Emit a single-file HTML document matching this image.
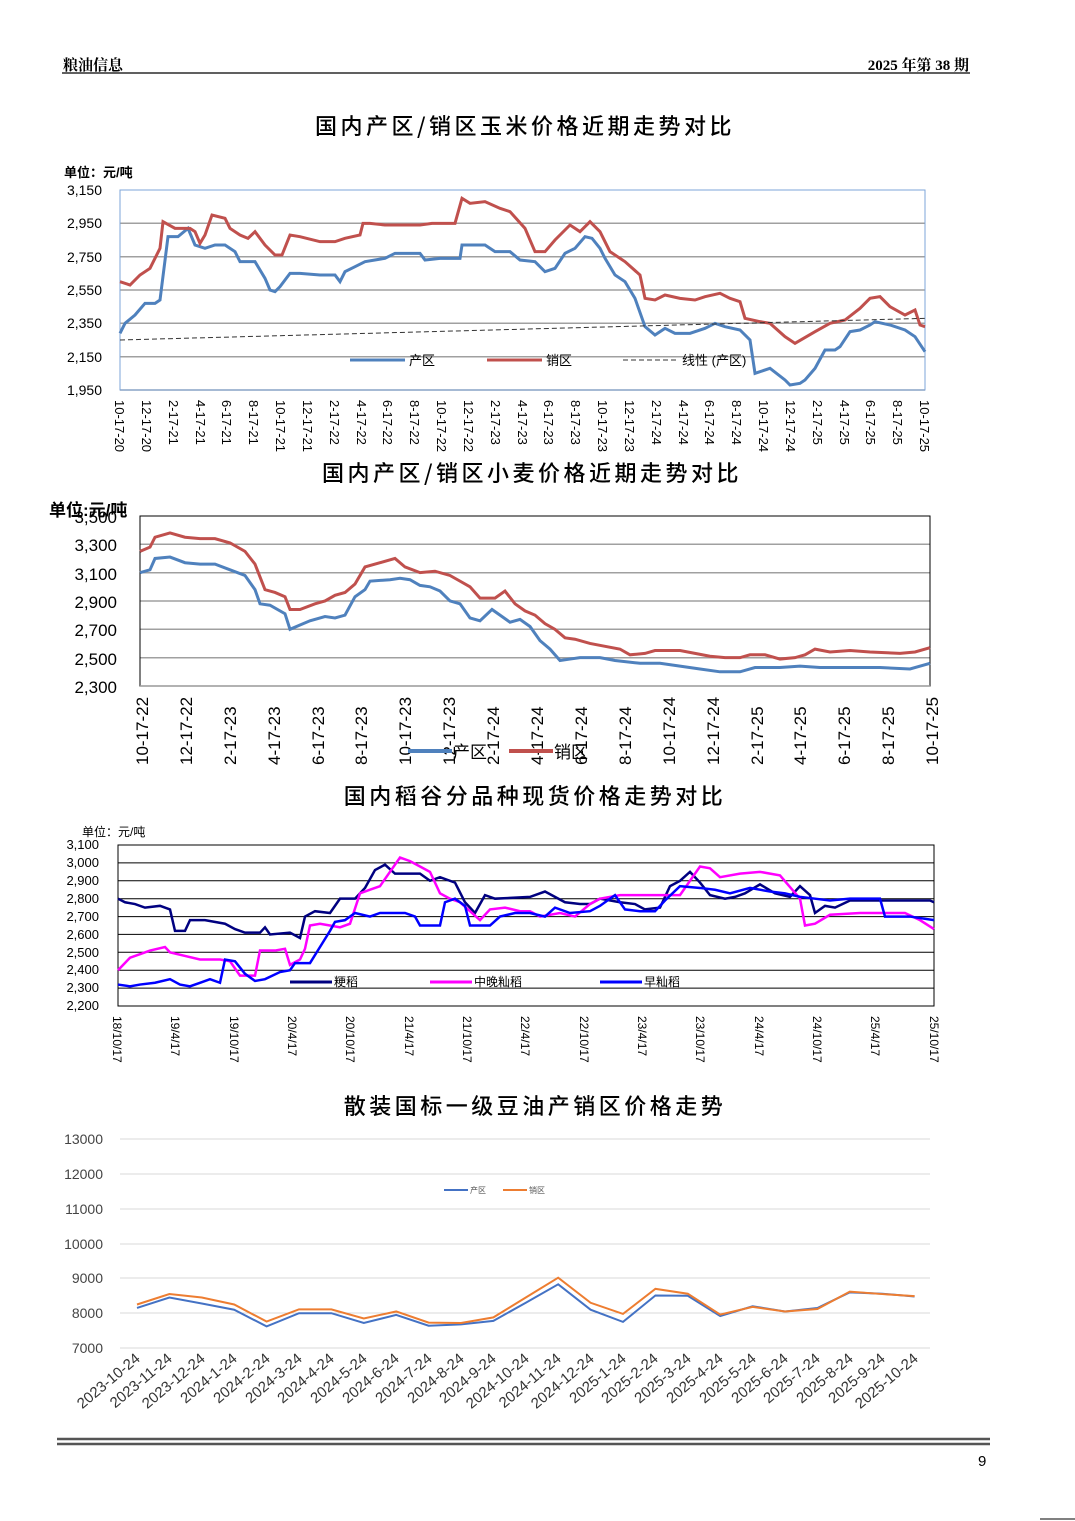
<!DOCTYPE html>
<html><head><meta charset="utf-8"><style>
body{margin:0;background:#fff}
svg{display:block}
text{font-family:"Liberation Sans","Noto Sans CJK SC",sans-serif}
.s{font-family:"Liberation Serif","Noto Serif CJK SC",serif}
.t{font-family:"Noto Sans CJK SC",sans-serif;font-weight:500}
.g line{stroke:#a0a0a0;stroke-width:1.5}
polyline{fill:none;vector-effect:non-scaling-stroke}
</style></head><body>
<svg width="1075" height="1521" viewBox="0 0 1075 1521" xmlns="http://www.w3.org/2000/svg">
<rect width="1075" height="1521" fill="#fff"/>
<!-- header -->
<text x="63" y="70" font-size="15" font-weight="bold" class="s">粮油信息</text>
<text x="969" y="70" font-size="15" font-weight="bold" class="s" text-anchor="end">2025 年第 38 期</text>
<line x1="62" y1="73" x2="970" y2="73" stroke="#000" stroke-width="1.2"/>

<!-- Chart 1 -->
<text x="525" y="134" font-size="22" text-anchor="middle" class="t" letter-spacing="3.5">国内产区/销区玉米价格近期走势对比</text>
<text x="64" y="177" font-size="13" font-weight="bold">单位：元/吨</text>
<g class="g"><line x1="120" y1="223.3" x2="925" y2="223.3"/><line x1="120" y1="256.7" x2="925" y2="256.7"/><line x1="120" y1="290" x2="925" y2="290"/><line x1="120" y1="323.3" x2="925" y2="323.3"/><line x1="120" y1="356.7" x2="925" y2="356.7"/><line x1="120" y1="390" x2="925" y2="390"/></g>
<rect x="120" y="190" width="805" height="200" fill="none" stroke="#7ea6d8" stroke-width="1"/>
<g font-size="14" text-anchor="end"><text x="102" y="195">3,150</text><text x="102" y="228">2,950</text><text x="102" y="262">2,750</text><text x="102" y="295">2,550</text><text x="102" y="328">2,350</text><text x="102" y="362">2,150</text><text x="102" y="395">1,950</text></g>
<g transform="matrix(1,0,0,-0.166667,0,715)">
<polyline stroke="#4f81bd" stroke-width="3" points="120,2290 125,2350 135,2400 145,2470 155,2470 160,2490 168,2870 178,2870 188,2920 195,2820 205,2800 215,2820 225,2820 235,2780 240,2720 255,2720 265,2620 270,2550 275,2540 280,2570 290,2650 300,2650 320,2640 335,2640 340,2600 345,2660 355,2690 365,2720 385,2740 395,2770 420,2770 425,2730 440,2740 460,2740 462,2820 485,2820 495,2780 510,2780 520,2730 535,2720 545,2660 555,2680 565,2770 575,2800 585,2870 592,2860 600,2800 605,2740 615,2640 625,2600 635,2500 645,2330 655,2280 665,2320 675,2290 690,2290 705,2320 715,2350 725,2330 740,2310 750,2250 755,2050 770,2080 785,2010 790,1980 800,1990 805,2010 815,2080 825,2190 835,2190 840,2210 850,2300 860,2310 870,2340 875,2360 890,2340 905,2310 915,2270 925,2180"/>
<polyline stroke="#c0504d" stroke-width="3" points="120,2600 130,2580 140,2640 150,2680 160,2800 163,2960 175,2920 190,2920 195,2900 200,2830 205,2880 212,3000 225,2980 230,2920 240,2880 248,2860 255,2900 265,2820 275,2760 282,2760 290,2880 300,2870 320,2840 335,2840 345,2860 360,2880 363,2950 370,2950 385,2940 420,2940 432,2950 455,2950 462,3100 470,3070 485,3080 500,3040 510,3020 525,2920 535,2780 545,2780 555,2850 570,2940 580,2900 590,2960 600,2900 610,2780 625,2720 640,2640 645,2500 655,2490 665,2520 680,2500 695,2490 705,2510 720,2530 730,2500 740,2480 745,2380 760,2360 770,2350 785,2270 795,2230 815,2300 830,2350 845,2370 860,2440 870,2500 880,2510 890,2450 905,2400 915,2430 920,2340 925,2330"/>
<polyline stroke="#333" stroke-width="1" stroke-dasharray="5,3" points="120,2250 925,2380"/>
</g>
<line x1="350" y1="360" x2="405" y2="360" stroke="#4f81bd" stroke-width="3"/><text x="409" y="365" font-size="13">产区</text>
<line x1="487" y1="360" x2="542" y2="360" stroke="#c0504d" stroke-width="3"/><text x="546" y="365" font-size="13">销区</text>
<line x1="623" y1="360" x2="678" y2="360" stroke="#333" stroke-width="1" stroke-dasharray="5,3"/><text x="682" y="365" font-size="13">线性 (产区)</text>
<g font-size="13">
<text transform="translate(115,400) rotate(90)">10-17-20</text><text transform="translate(142,400) rotate(90)">12-17-20</text><text transform="translate(169,400) rotate(90)">2-17-21</text><text transform="translate(196,400) rotate(90)">4-17-21</text><text transform="translate(222,400) rotate(90)">6-17-21</text><text transform="translate(249,400) rotate(90)">8-17-21</text><text transform="translate(276,400) rotate(90)">10-17-21</text><text transform="translate(303,400) rotate(90)">12-17-21</text><text transform="translate(330,400) rotate(90)">2-17-22</text><text transform="translate(357,400) rotate(90)">4-17-22</text><text transform="translate(383,400) rotate(90)">6-17-22</text><text transform="translate(410,400) rotate(90)">8-17-22</text><text transform="translate(437,400) rotate(90)">10-17-22</text><text transform="translate(464,400) rotate(90)">12-17-22</text><text transform="translate(491,400) rotate(90)">2-17-23</text><text transform="translate(518,400) rotate(90)">4-17-23</text><text transform="translate(544,400) rotate(90)">6-17-23</text><text transform="translate(571,400) rotate(90)">8-17-23</text><text transform="translate(598,400) rotate(90)">10-17-23</text><text transform="translate(625,400) rotate(90)">12-17-23</text><text transform="translate(652,400) rotate(90)">2-17-24</text><text transform="translate(679,400) rotate(90)">4-17-24</text><text transform="translate(705,400) rotate(90)">6-17-24</text><text transform="translate(732,400) rotate(90)">8-17-24</text><text transform="translate(759,400) rotate(90)">10-17-24</text><text transform="translate(786,400) rotate(90)">12-17-24</text><text transform="translate(813,400) rotate(90)">2-17-25</text><text transform="translate(840,400) rotate(90)">4-17-25</text><text transform="translate(866,400) rotate(90)">6-17-25</text><text transform="translate(893,400) rotate(90)">8-17-25</text><text transform="translate(920,400) rotate(90)">10-17-25</text>
</g>

<!-- Chart 2 -->
<text x="532" y="481" font-size="22" text-anchor="middle" class="t" letter-spacing="3.5">国内产区/销区小麦价格近期走势对比</text>
<g class="g"><line x1="140" y1="544.3" x2="930" y2="544.3"/><line x1="140" y1="572.7" x2="930" y2="572.7"/><line x1="140" y1="601" x2="930" y2="601"/><line x1="140" y1="629.3" x2="930" y2="629.3"/><line x1="140" y1="657.7" x2="930" y2="657.7"/></g>
<rect x="140" y="516" width="790" height="170" fill="none" stroke="#000" stroke-width="1"/>
<line x1="140" y1="686" x2="930" y2="686" stroke="#999" stroke-width="1.5"/>
<g font-size="17" text-anchor="end"><text x="117" y="523">3,500</text><text x="117" y="551">3,300</text><text x="117" y="580">3,100</text><text x="117" y="608">2,900</text><text x="117" y="636">2,700</text><text x="117" y="665">2,500</text><text x="117" y="693">2,300</text></g>
<text x="49" y="516" font-size="17" font-weight="bold">单位:元/吨</text>
<g transform="matrix(1,0,0,-0.141667,0,1011.8)">
<polyline stroke="#4f81bd" stroke-width="3" points="140,3100 150,3120 155,3200 170,3210 185,3170 200,3160 215,3160 230,3120 245,3080 255,2980 260,2880 270,2870 285,2810 290,2700 300,2730 310,2760 325,2790 335,2780 345,2800 355,2930 365,2980 370,3040 390,3050 400,3060 410,3050 420,3010 430,3000 440,2970 450,2900 460,2880 470,2780 480,2760 492,2840 500,2800 510,2750 520,2770 530,2720 540,2620 550,2560 560,2480 570,2490 580,2500 600,2500 615,2480 640,2460 660,2460 680,2440 700,2420 720,2400 740,2400 755,2430 780,2430 800,2440 820,2430 840,2430 880,2430 910,2420 930,2460"/>
<polyline stroke="#c0504d" stroke-width="3" points="140,3250 150,3280 155,3350 170,3380 185,3350 200,3340 215,3340 230,3310 245,3250 255,3160 265,2980 275,2960 285,2930 290,2840 300,2840 315,2880 325,2900 335,2940 345,2960 355,3020 365,3140 380,3170 395,3200 405,3140 420,3100 435,3110 450,3080 460,3040 470,3000 480,2920 495,2920 505,2970 515,2880 525,2830 535,2800 545,2740 555,2700 565,2640 575,2630 590,2600 605,2580 620,2560 630,2520 645,2530 655,2550 680,2550 695,2530 710,2510 725,2500 740,2500 750,2520 765,2520 780,2490 795,2500 805,2520 815,2560 830,2540 850,2550 870,2540 900,2530 915,2540 930,2570"/>
</g>
<g font-size="17">
<text transform="translate(148,765) rotate(-90)">10-17-22</text><text transform="translate(192,765) rotate(-90)">12-17-22</text><text transform="translate(236,765) rotate(-90)">2-17-23</text><text transform="translate(280,765) rotate(-90)">4-17-23</text><text transform="translate(324,765) rotate(-90)">6-17-23</text><text transform="translate(367,765) rotate(-90)">8-17-23</text><text transform="translate(411,765) rotate(-90)">10-17-23</text><text transform="translate(455,765) rotate(-90)">12-17-23</text><text transform="translate(499,765) rotate(-90)">2-17-24</text><text transform="translate(543,765) rotate(-90)">4-17-24</text><text transform="translate(587,765) rotate(-90)">6-17-24</text><text transform="translate(631,765) rotate(-90)">8-17-24</text><text transform="translate(675,765) rotate(-90)">10-17-24</text><text transform="translate(719,765) rotate(-90)">12-17-24</text><text transform="translate(763,765) rotate(-90)">2-17-25</text><text transform="translate(806,765) rotate(-90)">4-17-25</text><text transform="translate(850,765) rotate(-90)">6-17-25</text><text transform="translate(894,765) rotate(-90)">8-17-25</text><text transform="translate(938,765) rotate(-90)">10-17-25</text>
</g>
<line x1="408" y1="751" x2="452" y2="751" stroke="#4f81bd" stroke-width="4"/><text x="453" y="758" font-size="17">产区</text>
<line x1="509" y1="751" x2="553" y2="751" stroke="#c0504d" stroke-width="4"/><text x="554" y="758" font-size="17">销区</text>

<!-- Chart 3 -->
<text x="535" y="804" font-size="22" text-anchor="middle" class="t" letter-spacing="3.5">国内稻谷分品种现货价格走势对比</text>
<text x="82" y="836" font-size="12">单位：元/吨</text>
<g><line x1="118" y1="862.9" x2="934" y2="862.9" stroke="#000"/><line x1="118" y1="880.8" x2="934" y2="880.8" stroke="#000"/><line x1="118" y1="898.7" x2="934" y2="898.7" stroke="#000"/><line x1="118" y1="916.6" x2="934" y2="916.6" stroke="#000"/><line x1="118" y1="934.4" x2="934" y2="934.4" stroke="#000"/><line x1="118" y1="952.3" x2="934" y2="952.3" stroke="#000"/><line x1="118" y1="970.2" x2="934" y2="970.2" stroke="#000"/><line x1="118" y1="988.1" x2="934" y2="988.1" stroke="#000"/></g>
<rect x="118" y="845" width="816" height="161" fill="none" stroke="#000"/>
<g font-size="13" text-anchor="end"><text x="99" y="849">3,100</text><text x="99" y="867">3,000</text><text x="99" y="885">2,900</text><text x="99" y="903">2,800</text><text x="99" y="921">2,700</text><text x="99" y="939">2,600</text><text x="99" y="957">2,500</text><text x="99" y="974">2,400</text><text x="99" y="992">2,300</text><text x="99" y="1010">2,200</text></g>
<g transform="matrix(1,0,0,-0.1789,0,1399.6)">
<polyline stroke="#000080" stroke-width="2.5" points="118,2800 125,2780 135,2770 145,2750 160,2760 170,2740 175,2620 185,2620 190,2680 205,2680 225,2660 235,2630 245,2610 260,2610 265,2640 270,2600 290,2610 300,2580 305,2700 315,2730 330,2720 340,2800 355,2800 365,2860 375,2960 385,2990 395,2940 420,2940 430,2900 440,2920 455,2890 465,2780 475,2720 485,2820 495,2800 530,2810 545,2840 565,2780 580,2770 590,2770 600,2800 620,2780 635,2770 645,2740 660,2750 670,2870 680,2900 690,2950 700,2890 710,2820 725,2800 735,2810 745,2830 760,2880 775,2830 790,2810 800,2870 810,2820 815,2720 825,2760 835,2750 850,2790 880,2790 930,2790 934,2780"/>
<polyline stroke="#ff00ff" stroke-width="2.5" points="118,2400 130,2470 140,2490 150,2510 165,2530 170,2500 185,2480 200,2460 220,2460 230,2450 240,2370 255,2370 260,2510 275,2510 285,2520 290,2430 300,2460 305,2520 310,2650 320,2660 330,2650 340,2640 350,2660 360,2830 370,2850 380,2870 390,2950 400,3030 410,3010 420,2980 430,2950 440,2830 450,2800 460,2780 470,2730 480,2680 490,2740 505,2750 520,2730 530,2730 540,2700 560,2720 575,2700 590,2770 600,2800 620,2820 650,2820 680,2820 700,2980 710,2970 720,2920 740,2940 760,2950 780,2930 800,2800 805,2650 815,2660 830,2710 860,2720 880,2720 905,2720 920,2680 934,2630"/>
<polyline stroke="#0000ff" stroke-width="2.5" points="118,2320 130,2310 140,2320 155,2330 170,2350 180,2320 190,2310 200,2330 210,2350 220,2330 225,2460 235,2450 245,2380 255,2340 265,2350 280,2390 290,2400 295,2440 310,2440 320,2530 330,2620 335,2670 345,2680 355,2720 370,2700 380,2720 405,2720 415,2700 420,2650 440,2650 445,2780 455,2800 465,2760 470,2650 490,2650 500,2700 515,2720 530,2720 545,2700 555,2750 570,2720 590,2730 600,2760 615,2820 625,2740 640,2730 655,2730 665,2790 680,2870 700,2860 715,2850 730,2830 750,2860 770,2840 785,2830 800,2810 815,2800 830,2790 850,2800 880,2800 885,2700 910,2700 934,2680"/>
</g>
<line x1="290" y1="982" x2="332" y2="982" stroke="#000080" stroke-width="3"/><text x="334" y="986" font-size="12">粳稻</text>
<line x1="430" y1="982" x2="472" y2="982" stroke="#ff00ff" stroke-width="3"/><text x="474" y="986" font-size="12">中晚籼稻</text>
<line x1="600" y1="982" x2="642" y2="982" stroke="#0000ff" stroke-width="3"/><text x="644" y="986" font-size="12">早籼稻</text>
<g font-size="12">
<text transform="translate(113,1016) rotate(90)">18/10/17</text><text transform="translate(171,1016) rotate(90)">19/4/17</text><text transform="translate(230,1016) rotate(90)">19/10/17</text><text transform="translate(288,1016) rotate(90)">20/4/17</text><text transform="translate(346,1016) rotate(90)">20/10/17</text><text transform="translate(405,1016) rotate(90)">21/4/17</text><text transform="translate(463,1016) rotate(90)">21/10/17</text><text transform="translate(521,1016) rotate(90)">22/4/17</text><text transform="translate(580,1016) rotate(90)">22/10/17</text><text transform="translate(638,1016) rotate(90)">23/4/17</text><text transform="translate(696,1016) rotate(90)">23/10/17</text><text transform="translate(755,1016) rotate(90)">24/4/17</text><text transform="translate(813,1016) rotate(90)">24/10/17</text><text transform="translate(871,1016) rotate(90)">25/4/17</text><text transform="translate(930,1016) rotate(90)">25/10/17</text>
</g>

<!-- Chart 4 -->
<text x="535" y="1114" font-size="22" text-anchor="middle" class="t" letter-spacing="3.5">散装国标一级豆油产销区价格走势</text>
<g stroke="#d9d9d9" stroke-width="1"><line x1="120" y1="1139" x2="930" y2="1139"/><line x1="120" y1="1174" x2="930" y2="1174"/><line x1="120" y1="1209" x2="930" y2="1209"/><line x1="120" y1="1244" x2="930" y2="1244"/><line x1="120" y1="1278" x2="930" y2="1278"/><line x1="120" y1="1313" x2="930" y2="1313"/><line x1="120" y1="1348" x2="930" y2="1348"/></g>
<g font-size="14" fill="#444" text-anchor="end"><text x="103" y="1144">13000</text><text x="103" y="1179">12000</text><text x="103" y="1214">11000</text><text x="103" y="1249">10000</text><text x="103" y="1283">9000</text><text x="103" y="1318">8000</text><text x="103" y="1353">7000</text></g>
<g transform="matrix(32.4,0,0,-0.0348,137,1591.6)">
<polyline stroke="#4472c4" stroke-width="2" points="0,8150 1,8450 2,8280 3,8100 4,7620 5,8000 6,8000 7,7720 8,7950 9,7640 10,7680 11,7780 12,8300 13,8830 14,8100 15,7750 16,8510 17,8500 18,7920 19,8200 20,8050 21,8150 22,8600 23,8560 24,8480"/>
<polyline stroke="#ed7d31" stroke-width="2" points="0,8250 1,8550 2,8450 3,8250 4,7760 5,8110 6,8110 7,7850 8,8050 9,7730 10,7720 11,7880 12,8450 13,9020 14,8300 15,7980 16,8700 17,8560 18,7960 19,8180 20,8050 21,8120 22,8620 23,8550 24,8490"/>
</g>
<line x1="444" y1="1190" x2="468" y2="1190" stroke="#4472c4" stroke-width="2"/><text x="470" y="1193" font-size="8" fill="#555">产区</text>
<line x1="503" y1="1190" x2="527" y2="1190" stroke="#ed7d31" stroke-width="2"/><text x="529" y="1193" font-size="8" fill="#555">销区</text>
<g font-size="15" fill="#333" text-anchor="end">
<text transform="translate(141,1360) rotate(-40)">2023-10-24</text><text transform="translate(173,1360) rotate(-40)">2023-11-24</text><text transform="translate(206,1360) rotate(-40)">2023-12-24</text><text transform="translate(238,1360) rotate(-40)">2024-1-24</text><text transform="translate(271,1360) rotate(-40)">2024-2-24</text><text transform="translate(303,1360) rotate(-40)">2024-3-24</text><text transform="translate(335,1360) rotate(-40)">2024-4-24</text><text transform="translate(368,1360) rotate(-40)">2024-5-24</text><text transform="translate(400,1360) rotate(-40)">2024-6-24</text><text transform="translate(433,1360) rotate(-40)">2024-7-24</text><text transform="translate(465,1360) rotate(-40)">2024-8-24</text><text transform="translate(497,1360) rotate(-40)">2024-9-24</text><text transform="translate(530,1360) rotate(-40)">2024-10-24</text><text transform="translate(562,1360) rotate(-40)">2024-11-24</text><text transform="translate(595,1360) rotate(-40)">2024-12-24</text><text transform="translate(627,1360) rotate(-40)">2025-1-24</text><text transform="translate(659,1360) rotate(-40)">2025-2-24</text><text transform="translate(692,1360) rotate(-40)">2025-3-24</text><text transform="translate(724,1360) rotate(-40)">2025-4-24</text><text transform="translate(757,1360) rotate(-40)">2025-5-24</text><text transform="translate(789,1360) rotate(-40)">2025-6-24</text><text transform="translate(821,1360) rotate(-40)">2025-7-24</text><text transform="translate(854,1360) rotate(-40)">2025-8-24</text><text transform="translate(886,1360) rotate(-40)">2025-9-24</text><text transform="translate(919,1360) rotate(-40)">2025-10-24</text>
</g>

<!-- footer -->
<line x1="57" y1="1439" x2="990" y2="1439" stroke="#555" stroke-width="2.5"/>
<line x1="57" y1="1444" x2="990" y2="1444" stroke="#555" stroke-width="2.5"/>
<text x="978" y="1466" font-size="15">9</text>
<line x1="1040" y1="1519" x2="1075" y2="1519" stroke="#000" stroke-width="1"/>
</svg>
</body></html>
